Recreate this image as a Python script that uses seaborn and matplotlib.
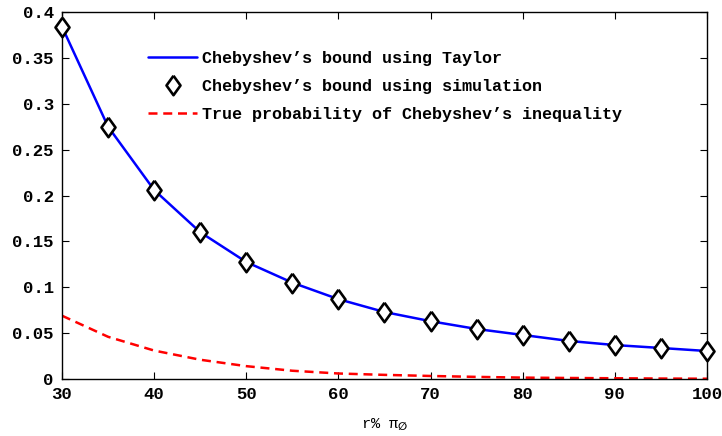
import numpy as np
import pandas as pd
import matplotlib
matplotlib.use("Agg")
import matplotlib.pyplot as plt
import seaborn as sns

r_pct = [30, 35, 40, 45, 50, 55, 60, 65, 70, 75, 80, 85, 90, 95, 100]
bound_taylor = [0.384, 0.275, 0.206, 0.160, 0.1275, 0.105, 0.087, 0.073,
                0.063, 0.0545, 0.048, 0.0415, 0.037, 0.0338, 0.0305]
bound_sim = [0.384, 0.275, 0.206, 0.160, 0.1275, 0.105, 0.087, 0.073,
             0.063, 0.0545, 0.048, 0.0415, 0.037, 0.0338, 0.0305]
true_prob = [0.069, 0.046, 0.031, 0.021, 0.014, 0.009, 0.006, 0.0045,
             0.0033, 0.0023, 0.0015, 0.0011, 0.0008, 0.0005, 0.0003]
xticks = [30, 40, 50, 60, 70, 80, 90, 100]
yticks = [0, 0.05, 0.1, 0.15, 0.2, 0.25, 0.3, 0.35, 0.4]
ytick_labels = ["0", "0.05", "0.1", "0.15", "0.2", "0.25", "0.3", "0.35", "0.4"]
labels = ["Chebyshev\u2019s bound using Taylor",
          "Chebyshev\u2019s bound using simulation",
          "True probability of Chebyshev\u2019s inequality"]

df = pd.DataFrame({"r": r_pct, "taylor": bound_taylor, "sim": bound_sim, "true": true_prob})

sns.set_style("ticks")
plt.rcParams["font.family"] = ["Liberation Mono", "DejaVu Sans"]
plt.rcParams["font.weight"] = "bold"
plt.rcParams["text.color"] = "black"
plt.rcParams["axes.labelcolor"] = "black"
plt.rcParams["xtick.color"] = "black"
plt.rcParams["ytick.color"] = "black"

fig = plt.figure(figsize=(7.22, 4.36), dpi=100)
ax = fig.add_axes([62/722, 1-379/436, (707-62)/722, (379-12)/436])

sns.lineplot(data=df, x="r", y="taylor", ax=ax, color="#0000ff", linewidth=1.8, label=labels[0])
diamond = [(0, 1), (0.72, 0), (0, -1), (-0.72, 0), (0, 1)]
ax.plot(df["r"], df["sim"], linestyle="none", marker=diamond, markersize=14,
        markerfacecolor="white", markeredgecolor="black", markeredgewidth=1.9,
        label=labels[1], zorder=5, clip_on=False)
sns.lineplot(data=df, x="r", y="true", ax=ax, color="#ff0000", linewidth=1.8,
             linestyle=(0, (3.6, 2.3)), label=labels[2])

ax.set_xlim(30, 100)
ax.set_ylim(0, 0.4)
ax.set_xticks(xticks)
ax.set_xticklabels([str(v) for v in xticks])
ax.set_yticks(yticks)
ax.set_yticklabels(ytick_labels)
ax.tick_params(direction="in", length=5, width=0.8, labelsize=12.5, top=True, right=True, pad=6,
               colors="black")
for s in ax.spines.values():
    s.set_visible(True)
    s.set_linewidth(1.0)
    s.set_color("black")
ax.set_xlabel("r% \u03c0$_{\\varnothing}$", fontsize=11, labelpad=10, color="black")
ax.set_ylabel("")

leg = ax.legend(loc="upper left", bbox_to_anchor=(141/722, 1-44/436),
                bbox_transform=fig.transFigure, frameon=False, fontsize=12.1,
                handlelength=2.95, handletextpad=0.3, labelspacing=0.78, borderaxespad=0)
for t in leg.get_texts():
    t.set_color("black")

fig.savefig("out.png", dpi=100)
